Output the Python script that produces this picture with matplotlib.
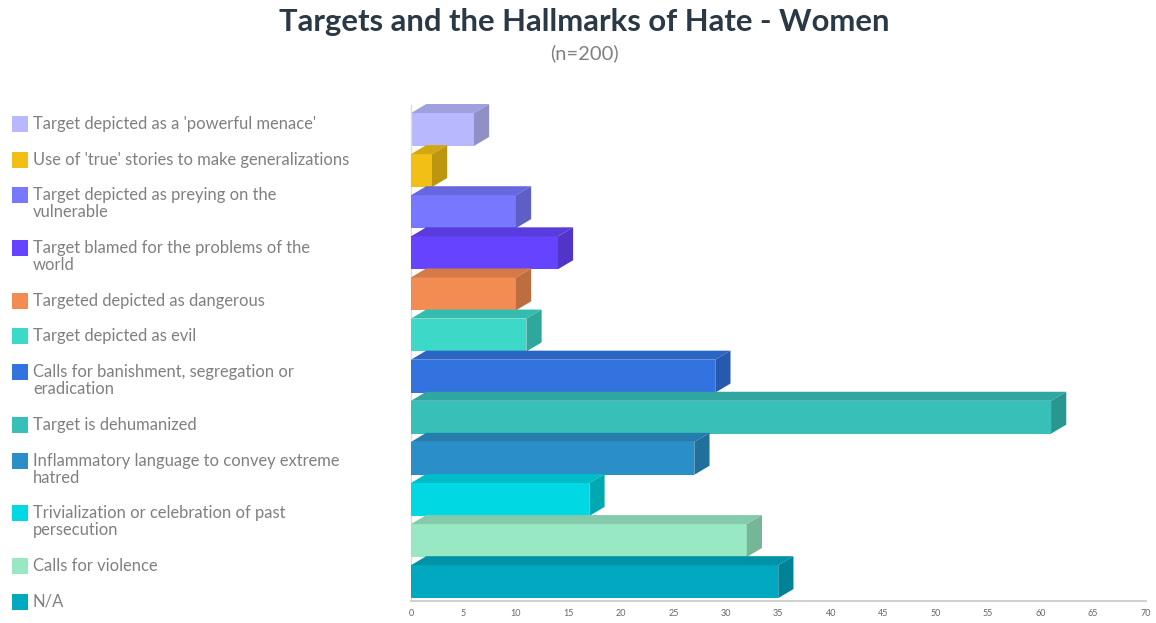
import matplotlib.pyplot as plt
from matplotlib.patches import Polygon
from matplotlib.colors import to_rgb

# data
categories = [
    "Target depicted as a 'powerful menace'",
    "Use of 'true' stories to make generalizations",
    "Target depicted as preying on the\nvulnerable",
    "Target blamed for the problems of the\nworld",
    "Targeted depicted as dangerous",
    "Target depicted as evil",
    "Calls for banishment, segregation or\neradication",
    "Target is dehumanized",
    "Inflammatory language to convey extreme\nhatred",
    "Trivialization or celebration of past\npersecution",
    "Calls for violence",
    "N/A",
]
values = [6, 2, 10, 14, 10, 11, 29, 61, 27, 17, 32, 35]
colors = ["#b8b8ff", "#f2c014", "#7878ff", "#6644ff", "#f28c52", "#3cd8c8",
          "#3273e0", "#36c0b8", "#2a8fc8", "#00d8e4", "#98e8c4", "#00a8c0"]
xticks = list(range(0, 75, 5))

plt.rcParams['font.family'] = ['Lato', 'DejaVu Sans']

W, H = 1156, 623
fig = plt.figure(figsize=(W / 100, H / 100), dpi=100)
ax = fig.add_axes([411 / W, 1 - 601 / H, (1145.5 - 411) / W, (601 - 92.5) / H])

bar_h = 0.8
dx, dy = 1.45, 0.22   # 3d depth in data units


def shade(c, f):
    r, g, b = to_rgb(c)
    return (r * f, g * f, b * f)


for i, (v, c) in enumerate(zip(values, colors)):
    top = i - bar_h / 2
    z = 2 + i
    ax.barh(i, v, height=bar_h, color=c, zorder=z)
    ax.add_patch(Polygon([(0, top), (v, top), (v + dx, top - dy), (dx, top - dy)],
                         closed=True, facecolor=shade(c, 0.87), edgecolor='none', zorder=z))
    ax.add_patch(Polygon([(v, top), (v + dx, top - dy), (v + dx, top - dy + bar_h), (v, top + bar_h)],
                         closed=True, facecolor=shade(c, 0.78), edgecolor='none', zorder=z))

ax.set_xlim(0, 70)
ax.set_ylim(11.47, -0.9)
ax.set_xticks(xticks)
ax.set_xticklabels([str(t) for t in xticks], fontsize=6.5, color='#666666')
ax.tick_params(axis='x', length=0, pad=6)
ax.set_yticks([])
for s in ['top', 'right']:
    ax.spines[s].set_visible(False)
ax.spines['bottom'].set_color('#cccccc')
ax.spines['bottom'].set_linewidth(1.3)
ax.spines['left'].set_color('#dddddd')
ax.spines['left'].set_linewidth(1.0)
ax.spines['left'].set_bounds(11.47, -0.6)

# legend on the left
y = 124
for lab, c in zip(categories, colors):
    fig.patches.append(plt.Rectangle((12 / W, 1 - (y + 8) / H), 16 / W, 16 / H,
                                     transform=fig.transFigure, facecolor=c, edgecolor='none'))
    lines = lab.split('\n')
    for j, line in enumerate(lines):
        fig.text(33 / W, 1 - (y + 17 * j) / H, line, fontsize=11.9, color='#808080',
                 va='center', ha='left')
    y += 17 * (len(lines) - 1) + 35.7

fig.text(584 / W, 1 - 22 / H, "Targets and the Hallmarks of Hate - Women",
         fontsize=22.3, fontweight='bold', color='#2b3845', ha='center', va='center')
fig.text(584 / W, 1 - 53 / H, "(n=200)", fontsize=14.5, color='#808080',
         ha='center', va='center')

fig.savefig('out.png', dpi=100)
